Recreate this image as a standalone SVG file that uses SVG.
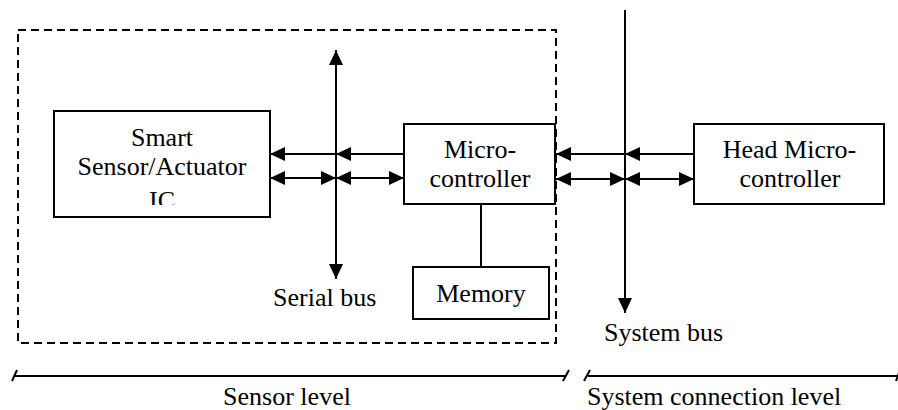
<svg xmlns="http://www.w3.org/2000/svg" width="898" height="410" viewBox="0 0 898 410">
  <style>
    .box { fill: #fff; stroke: #000; stroke-width: 2; }
    .ln { stroke: #000; stroke-width: 2; fill: none; }
  </style>
  <defs>
    <marker id="ah" markerUnits="userSpaceOnUse" markerWidth="16" markerHeight="14" refX="15" refY="7" orient="auto-start-reverse" viewBox="0 0 16 14">
      <path d="M0,0 L15,7 L0,14 Z" fill="#000"/>
    </marker>
    <clipPath id="clipIC">
      <rect x="54" y="111" width="216" height="94"/>
    </clipPath>
  </defs>
  <rect width="898" height="410" fill="#fff"/>

  <g id="sensor-boundary">
    <rect x="18" y="30" width="538" height="313" fill="none" stroke="#000" stroke-width="2" stroke-dasharray="8 5"/>
  </g>

  <g id="connectors">
    <line class="ln" x1="336" y1="279" x2="336" y2="50" marker-start="url(#ah)" marker-end="url(#ah)"/>
    <line class="ln" x1="625" y1="10" x2="625" y2="313" marker-end="url(#ah)"/>
    <line class="ln" x1="404" y1="154" x2="336" y2="154" marker-end="url(#ah)"/>
    <line class="ln" x1="336" y1="154" x2="270" y2="154" marker-end="url(#ah)"/>
    <line class="ln" x1="270" y1="178" x2="336" y2="178" marker-start="url(#ah)" marker-end="url(#ah)"/>
    <line class="ln" x1="336" y1="178" x2="404" y2="178" marker-start="url(#ah)" marker-end="url(#ah)"/>
    <line class="ln" x1="694" y1="154" x2="625" y2="154" marker-end="url(#ah)"/>
    <line class="ln" x1="625" y1="154" x2="556" y2="154" marker-end="url(#ah)"/>
    <line class="ln" x1="556" y1="179" x2="625" y2="179" marker-start="url(#ah)" marker-end="url(#ah)"/>
    <line class="ln" x1="625" y1="179" x2="694" y2="179" marker-start="url(#ah)" marker-end="url(#ah)"/>
    <line class="ln" x1="481" y1="204" x2="481" y2="267" stroke-width="1.5"/>
  </g>

  <g font-family="Liberation Serif, Times New Roman, serif" font-size="26" fill="#000">
  <g id="smart-sensor" text-anchor="middle">
    <rect class="box" x="54" y="111" width="216" height="106"/>
    <text x="162" y="146">Smart</text>
    <text x="162" y="175">Sensor/Actuator</text>
    <text x="162" y="209" clip-path="url(#clipIC)">IC</text>
  </g>

  <g id="microcontroller" text-anchor="middle">
    <rect class="box" x="404" y="124" width="151" height="80"/>
    <text x="480" y="158">Micro-</text>
    <text x="480" y="187">controller</text>
  </g>

  <g id="memory" text-anchor="middle">
    <rect class="box" x="413" y="267" width="136" height="52"/>
    <text x="481" y="302">Memory</text>
  </g>

  <g id="head-microcontroller" text-anchor="middle">
    <rect class="box" x="694" y="124" width="190" height="80"/>
    <text x="789.5" y="158">Head Micro-</text>
    <text x="790" y="187">controller</text>
  </g>

  <g id="labels">
    <text x="273" y="306">Serial bus</text>
    <text x="604" y="341">System bus</text>
  </g>

  <g id="levels">
    <line class="ln" x1="14" y1="376" x2="566" y2="376"/>
    <line class="ln" x1="12" y1="381" x2="17" y2="370" stroke-width="1.5"/>
    <line class="ln" x1="563" y1="381" x2="569" y2="370" stroke-width="1.5"/>
    <text x="287" y="405" text-anchor="middle">Sensor level</text>
    <line class="ln" x1="588" y1="376" x2="898" y2="376"/>
    <line class="ln" x1="584" y1="381" x2="590" y2="370" stroke-width="1.5"/>
    <line class="ln" x1="896" y1="381" x2="900" y2="370" stroke-width="1.5"/>
    <text x="587" y="405">System connection level</text>
  </g>
  </g>
</svg>
